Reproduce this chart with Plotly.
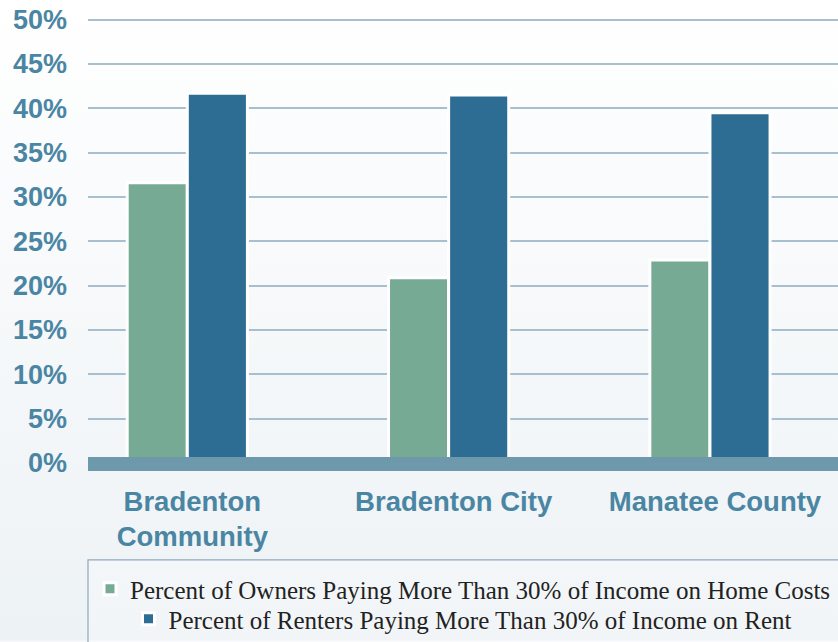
import base64
import plotly.graph_objects as go

# ---- data ----
categories = ["Bradenton<br>Community", "Bradenton City", "Manatee County"]
owners_pct = [31.6, 20.9, 22.9]
renters_pct = [41.7, 41.5, 39.5]
owners_name = "Percent of Owners Paying More Than 30% of Income on Home Costs"
renters_name = "Percent of Renters Paying More Than 30% of Income on Rent"
y_ticks = [0, 5, 10, 15, 20, 25, 30, 35, 40, 45, 50]
y_labels = [f"{v}%" for v in y_ticks]

# ---- style ----
W, H = 838, 642
ML, MR, MT, MB = 88, 0, 17, 170
label_color = "#4a86a3"
grid_color = "#a7bfcf"
green = "#77aa95"
blue = "#2d6d93"
sans = "Liberation Sans, Arial, sans-serif"
serif = "Liberation Serif, Times New Roman, serif"

bg_svg = (
    '<svg xmlns="http://www.w3.org/2000/svg" width="100" height="100" preserveAspectRatio="none">'
    '<defs><linearGradient id="g" x1="0" y1="0" x2="0" y2="1">'
    '<stop offset="0" stop-color="#ffffff"/><stop offset="1" stop-color="#edf2f5"/>'
    '</linearGradient></defs><rect width="100" height="100" fill="url(#g)"/></svg>'
)
bg_uri = "data:image/svg+xml;base64," + base64.b64encode(bg_svg.encode()).decode()

pw = W - ML - MR
ph = H - MT - MB
base_px = H - MB  # pixel row of the plot bottom

fig = go.Figure()
fig.add_trace(go.Bar(
    x=categories, y=owners_pct, name=owners_name,
    marker=dict(color=green, line=dict(color="white", width=3)),
    legend="legend", showlegend=True,
))
fig.add_trace(go.Bar(
    x=categories, y=renters_pct, name=renters_name,
    marker=dict(color=blue, line=dict(color="white", width=3)),
    legend="legend2", showlegend=True,
))

legend_common = dict(
    xanchor="center", yanchor="middle", orientation="h",
    bgcolor="rgba(0,0,0,0)", itemwidth=30,
    font=dict(family=serif, size=25, color="#222222"),
)

fig.update_layout(
    width=W, height=H,
    margin=dict(l=ML, r=MR, t=MT, b=MB),
    paper_bgcolor="#f6f8fa",
    plot_bgcolor="rgba(0,0,0,0)",
    showlegend=True,
    barmode="group",
    bargap=0.54,
    bargroupgap=0.0,
    images=[dict(
        source=bg_uri, xref="paper", yref="paper",
        x=-ML / pw, y=1 + MT / ph, sizex=W / pw, sizey=H / ph,
        xanchor="left", yanchor="top", sizing="stretch", layer="below",
    )],
    xaxis=dict(
        range=[-0.38, 2.49], showgrid=False, zeroline=False, showline=False,
        ticks="", tickfont=dict(family=sans, size=27.5, color=label_color, weight="bold"),
        ticklabelstandoff=11, ticklabelshift=5,
    ),
    yaxis=dict(
        range=[-0.9, 50.3], tickvals=y_ticks, ticktext=y_labels,
        showgrid=True, gridcolor=grid_color, gridwidth=2,
        zeroline=False, showline=False, ticks="",
        tickfont=dict(family=sans, size=27, color=label_color, weight="bold"),
        ticklabelstandoff=20,
    ),
    legend=dict(x=0.50, y=(base_px - 589) / ph, **legend_common),
    legend2=dict(x=0.50, y=(base_px - 620) / ph, **legend_common),
    shapes=[
        # thick baseline band
        dict(type="rect", xref="paper", yref="y", x0=0, x1=1, y0=-0.9, y1=0.68,
             fillcolor="#6e98ab", line=dict(width=0), layer="above"),
        # legend frame
        dict(type="rect", xref="paper", yref="paper", x0=0, x1=1.02,
             y0=(base_px - 700) / ph, y1=(base_px - 561) / ph,
             fillcolor="rgba(255,255,255,0.25)", line=dict(color="#8eaabb", width=1.2),
             layer="below"),
    ],
)

fig.write_html(
    "out.html",
    config={"displayModeBar": False},
    post_script="document.body.style.margin='0';document.body.style.overflow='hidden';",
)
